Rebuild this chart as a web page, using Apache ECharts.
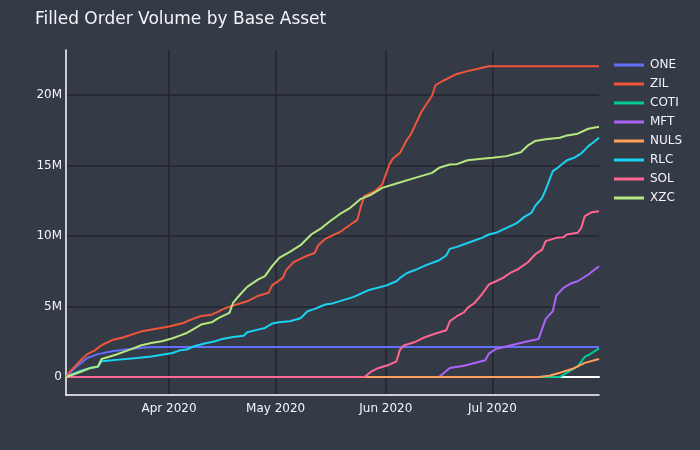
<!DOCTYPE html>
<html><head><meta charset="utf-8">
<script src="https://cdn.jsdelivr.net/npm/echarts@6/dist/echarts.min.js"></script>
<style>html,body{margin:0;padding:0;background:#353a47;}#c{width:700px;height:450px;}</style>
</head><body><div id="c"></div>
<script>
const titleText = 'Filled Order Volume by Base Asset';
const firstDay = '2020-03-03';
const lastDay = '2020-07-31';
const monthNames = ['Jan','Feb','Mar','Apr','May','Jun','Jul','Aug','Sep','Oct','Nov','Dec'];
const seriesNames = ['ONE','ZIL','COTI','MFT','NULS','RLC','SOL','XZC'];
const seriesColors = ['#636efa','#EF553B','#00cc96','#ab63fa','#FFA15A','#19d3f3','#FF6692','#B6E880'];

// values in millions
const ONE = [['2020-03-03',0],['2020-03-06',0.75],['2020-03-09',1.35],['2020-03-12',1.62],['2020-03-16',1.82],['2020-03-21',1.99],['2020-03-26',2.1],['2020-03-30',2.13],['2020-07-31',2.13]];
const ZIL = [['2020-03-03',0],['2020-03-04',0.35],['2020-03-06',0.87],['2020-03-07',1.15],['2020-03-09',1.62],['2020-03-11',1.87],['2020-03-13',2.25],['2020-03-16',2.62],['2020-03-19',2.8],['2020-03-22',3.05],['2020-03-24',3.22],['2020-03-28',3.4],
 ['2020-04-01',3.58],['2020-04-05',3.83],['2020-04-07',4.05],['2020-04-10',4.33],['2020-04-13',4.42],['2020-04-15',4.66],['2020-04-17',4.9],['2020-04-20',5.14],['2020-04-23',5.37],['2020-04-26',5.75],['2020-04-29',5.97],['2020-04-30',6.5],
 ['2020-05-03',7.03],['2020-05-04',7.6],['2020-05-06',8.14],['2020-05-08',8.38],['2020-05-10',8.62],['2020-05-12',8.8],['2020-05-13',9.35],['2020-05-15',9.8],['2020-05-17',10.05],['2020-05-19',10.27],['2020-05-22',10.8],['2020-05-24',11.15],['2020-05-25',12.1],['2020-05-26',12.85],['2020-05-29',13.2],['2020-05-31',13.66],
 ['2020-06-02',15.07],['2020-06-03',15.5],['2020-06-05',15.9],['2020-06-07',16.85],['2020-06-08',17.2],['2020-06-11',18.8],['2020-06-14',19.95],['2020-06-15',20.7],['2020-06-17',21.0],['2020-06-21',21.5],['2020-06-24',21.7],['2020-06-27',21.87],['2020-06-29',22.0],['2020-06-30',22.05],['2020-07-31',22.05]];
const COTI = [['2020-03-03',0],['2020-07-20',0],['2020-07-25',0.75],['2020-07-27',1.42],['2020-07-29',1.7],['2020-07-31',2.03]];
const MFT = [['2020-03-03',0],['2020-06-16',0],['2020-06-19',0.64],['2020-06-23',0.8],['2020-06-26',0.99],['2020-06-29',1.18],['2020-06-30',1.66],['2020-07-02',1.99],['2020-07-06',2.23],['2020-07-11',2.53],['2020-07-14',2.7],['2020-07-16',4.12],['2020-07-18',4.66],['2020-07-19',5.78],['2020-07-21',6.32],['2020-07-23',6.63],['2020-07-25',6.79],['2020-07-28',7.27],['2020-07-31',7.86]];
const NULS = [['2020-03-03',0],['2020-07-14',0],['2020-07-17',0.08],['2020-07-20',0.3],['2020-07-24',0.62],['2020-07-27',1.0],['2020-07-31',1.28]];
const RLC = [['2020-03-03',0],['2020-03-07',0.42],['2020-03-10',0.66],['2020-03-12',0.71],['2020-03-13',1.11],['2020-03-16',1.18],['2020-03-18',1.23],['2020-03-23',1.35],['2020-03-27',1.45],['2020-03-30',1.58],
 ['2020-04-02',1.7],['2020-04-04',1.89],['2020-04-06',1.94],['2020-04-08',2.18],['2020-04-11',2.37],['2020-04-14',2.53],['2020-04-16',2.7],['2020-04-19',2.84],['2020-04-22',2.93],['2020-04-23',3.17],['2020-04-26',3.36],['2020-04-28',3.48],['2020-04-30',3.79],
 ['2020-05-02',3.88],['2020-05-05',3.95],['2020-05-08',4.17],['2020-05-10',4.66],['2020-05-12',4.83],['2020-05-15',5.14],['2020-05-17',5.22],['2020-05-20',5.45],['2020-05-23',5.68],['2020-05-27',6.15],
 ['2020-06-01',6.48],['2020-06-04',6.79],['2020-06-05',7.03],['2020-06-07',7.38],['2020-06-10',7.67],['2020-06-12',7.9],['2020-06-16',8.28],['2020-06-18',8.62],['2020-06-19',9.09],['2020-06-21',9.23],['2020-06-25',9.59],['2020-06-28',9.87],['2020-06-30',10.11],
 ['2020-07-02',10.23],['2020-07-05',10.58],['2020-07-08',10.94],['2020-07-10',11.36],['2020-07-12',11.65],['2020-07-13',12.12],['2020-07-15',12.71],['2020-07-16',13.3],['2020-07-18',14.6],['2020-07-19',14.77],['2020-07-22',15.38],['2020-07-24',15.55],['2020-07-26',15.86],['2020-07-28',16.38],['2020-07-29',16.57],['2020-07-31',16.97]];
const SOL = [['2020-03-03',0],['2020-05-26',0],['2020-05-28',0.4],['2020-05-30',0.64],['2020-06-02',0.87],['2020-06-04',1.11],['2020-06-05',1.94],['2020-06-06',2.23],['2020-06-09',2.46],['2020-06-12',2.82],['2020-06-15',3.08],['2020-06-18',3.31],['2020-06-19',3.95],['2020-06-21',4.31],['2020-06-23',4.59],['2020-06-24',4.9],['2020-06-26',5.25],['2020-06-28',5.85],['2020-06-30',6.56],
 ['2020-07-02',6.79],['2020-07-04',7.03],['2020-07-06',7.38],['2020-07-08',7.62],['2020-07-11',8.14],['2020-07-13',8.69],['2020-07-15',9.04],['2020-07-16',9.64],['2020-07-19',9.87],['2020-07-21',9.92],['2020-07-22',10.11],['2020-07-25',10.23],['2020-07-26',10.58],['2020-07-27',11.41],['2020-07-29',11.69],['2020-07-31',11.76]];
const XZC = [['2020-03-03',0],['2020-03-07',0.35],['2020-03-10',0.64],['2020-03-12',0.75],['2020-03-13',1.28],['2020-03-17',1.58],['2020-03-21',1.94],['2020-03-24',2.23],['2020-03-27',2.41],['2020-03-30',2.53],
 ['2020-04-02',2.75],['2020-04-04',2.93],['2020-04-06',3.12],['2020-04-08',3.41],['2020-04-10',3.72],['2020-04-13',3.88],['2020-04-15',4.19],['2020-04-18',4.55],['2020-04-19',5.25],['2020-04-21',5.85],['2020-04-23',6.39],['2020-04-26',6.91],['2020-04-28',7.15],['2020-04-30',7.86],
 ['2020-05-02',8.45],['2020-05-05',8.88],['2020-05-08',9.35],['2020-05-11',10.11],['2020-05-14',10.58],['2020-05-16',11.0],['2020-05-19',11.55],['2020-05-22',12.0],['2020-05-25',12.64],['2020-05-28',12.95],['2020-05-31',13.42],
 ['2020-06-04',13.73],['2020-06-09',14.11],['2020-06-14',14.48],['2020-06-16',14.84],['2020-06-19',15.08],['2020-06-21',15.1],['2020-06-24',15.38],['2020-06-28',15.48],
 ['2020-07-01',15.55],['2020-07-05',15.67],['2020-07-09',15.95],['2020-07-11',16.43],['2020-07-13',16.74],['2020-07-16',16.86],['2020-07-20',16.97],['2020-07-22',17.14],['2020-07-25',17.26],['2020-07-28',17.61],['2020-07-31',17.75]];
const seriesData = [ONE, ZIL, COTI, MFT, NULS, RLC, SOL, XZC];

// daily date categories
const days = [];
(function(){
  const d = new Date(firstDay + 'T00:00:00Z');
  const end = new Date(lastDay + 'T00:00:00Z');
  while (d <= end) { days.push(d.toISOString().slice(0,10)); d.setUTCDate(d.getUTCDate()+1); }
})();
const isMonthStart = (i, v) => v.slice(8) === '01';
const fmtMonth = v => monthNames[parseInt(v.slice(5,7),10)-1] + ' ' + v.slice(0,4);

const textColor = '#f2f5fa';
const gridColor = '#23262e';
const fontFamily = 'DejaVu Sans, Verdana, sans-serif';

const chart = echarts.init(document.getElementById('c'), null, {renderer:'canvas'});
chart.setOption({
  backgroundColor: '#353a47',
  animation: false,
  textStyle: {fontFamily: fontFamily},
  title: {text: titleText, left: 35, top: 11, padding: 0, textStyle: {color: textColor, fontSize: 17, fontWeight: 'normal', fontFamily: fontFamily}},
  legend: {
    orient: 'vertical', left: 614, top: 58, padding: 0, itemWidth: 30, itemHeight: 3, itemGap: 5, icon: 'rect',
    data: seriesNames,
    textStyle: {color: textColor, fontSize: 12, lineHeight: 14, fontFamily: fontFamily, padding: [0,0,0,1]}
  },
  grid: {left: 66, right: 101, top: 50, bottom: 55, containLabel: false},
  xAxis: [{
    type: 'category', data: days, boundaryGap: false,
    axisLine: {onZero: false, lineStyle: {color: '#ffffff', width: 1.5}},
    axisTick: {show: false},
    axisLabel: {interval: isMonthStart, formatter: fmtMonth, color: textColor, fontSize: 12, margin: 8, fontFamily: fontFamily},
    splitLine: {show: true, interval: isMonthStart, lineStyle: {color: gridColor, width: 1.5}}
  },{
    type: 'category', data: days, boundaryGap: false, position: 'bottom',
    axisLine: {onZero: true, lineStyle: {color: '#ffffff', width: 2}},
    axisTick: {show: false}, axisLabel: {show: false}, splitLine: {show: false}
  }],
  yAxis: {
    type: 'value', min: -1.28, max: 23.2, splitNumber: 5,
    axisLine: {show: true, lineStyle: {color: '#ffffff', width: 1.5}},
    axisTick: {show: false},
    axisLabel: {color: textColor, fontSize: 12, margin: 4, fontFamily: fontFamily, showMinLabel: false, showMaxLabel: false,
      formatter: v => (Math.abs(v % 5) < 1e-9) ? (v === 0 ? '0' : v + 'M') : ''},
    splitLine: {show: true, showMinLine: false, showMaxLine: false, lineStyle: {color: gridColor, width: 1.5}}
  },
  series: seriesNames.map((n, i) => ({
    name: n, type: 'line', data: seriesData[i], showSymbol: false, symbol: 'none',
    xAxisIndex: 0, color: seriesColors[i],
    lineStyle: {width: 2, color: seriesColors[i]}
  }))
});
</script></body></html>
